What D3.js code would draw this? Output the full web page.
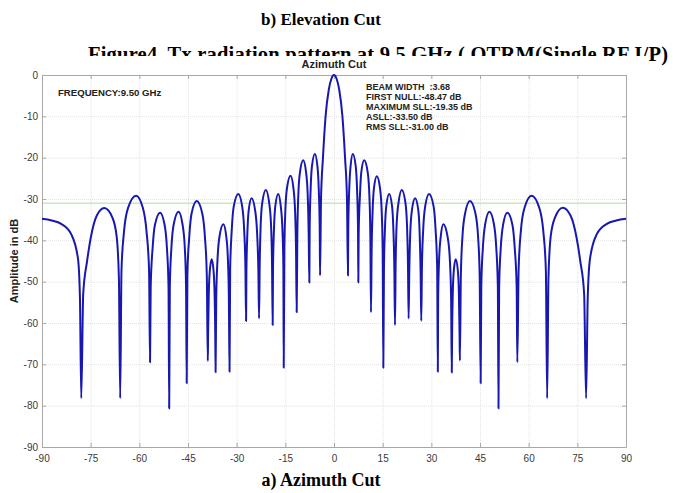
<!DOCTYPE html>
<html>
<head>
<meta charset="utf-8">
<script src="https://cdn.jsdelivr.net/npm/d3@7"></script>
<style>
body { margin: 0; background: #fff; }
svg { display: block; font-family: "Liberation Sans", Arial, sans-serif; }
.serif { font-family: "Liberation Serif", "Times New Roman", serif; font-weight: bold; }
</style>
</head>
<body>
<div id="chart"></div>
<script>
// pattern, one row per lobe (first value of a row = null before the lobe)
var azimuth = [
  -90, -87, -84.1, -81, -78.9, -78.3,
  -77.9, -77.3, -76.1, -75.0, -73.1, -70.8, -68.3, -67.0, -66.3,
  -65.9, -65.5, -64.7, -63.5, -61.0, -58.9, -57.8, -57.0,
  -56.7, -56.5, -55.9, -55.2, -53.6, -52.2, -51.5, -51.0,
  -50.8, -50.6, -50.1, -49.4, -47.9, -46.7, -46.0, -45.6,
  -45.4, -45.2, -44.6, -43.9, -42.3, -40.6, -39.8, -39.2,
  -38.9, -38.8, -38.6, -38.3, -37.7, -37.1, -36.8, -36.6,
  -36.5, -36.3, -35.9, -35.3, -34.1, -33.2, -32.7, -32.4,
  -32.2, -32.0, -31.5, -30.9, -29.5, -28.3, -27.7, -27.3,
  -27.1, -27.0, -26.7, -26.3, -25.4, -24.3, -23.7, -23.3,
  -23.1, -22.9, -22.6, -22.1, -21.0, -20.0, -19.4, -19.1,
  -18.9, -18.8, -18.5, -18.1, -17.2, -16.4, -15.9, -15.6,
  -15.5, -15.3, -15.0, -14.5, -13.4, -12.5, -12.0, -11.7,
  -11.5, -11.3, -11.0, -10.5, -9.5, -8.6, -8.1, -7.8,
  -7.6, -7.5, -7.2, -6.8, -5.9, -5.1, -4.7, -4.4,
  -4.3, -4.0, -3.4, -2.6, -1.6, -0.8, 0, 0.8, 1.6, 2.6, 3.4, 4.0,
  4.3, 4.4, 4.7, 5.1, 5.8, 6.7, 7.1, 7.4,
  7.5, 7.6, 8.0, 8.4, 9.3, 10.4, 10.9, 11.2,
  11.4, 11.6, 11.9, 12.3, 13.2, 14.2, 14.7, 15.0,
  15.2, 15.4, 15.7, 16.1, 17.0, 17.9, 18.3, 18.6,
  18.8, 19.0, 19.3, 19.9, 20.9, 22.0, 22.5, 22.8,
  23.0, 23.2, 23.5, 24.0, 25.0, 26.0, 26.4, 26.7,
  26.9, 27.1, 27.5, 28.1, 29.3, 30.7, 31.3, 31.8,
  32.0, 32.1, 32.4, 32.9, 33.7, 35.0, 35.7, 36.1,
  36.3, 36.4, 36.6, 36.9, 37.5, 38.2, 38.5, 38.7,
  38.8, 39.1, 39.6, 40.4, 41.9, 43.6, 44.4, 44.9,
  45.2, 45.4, 45.9, 46.6, 47.9, 49.3, 50.0, 50.5,
  50.7, 50.9, 51.4, 52.1, 53.4, 55.0, 55.7, 56.3,
  56.5, 56.9, 57.6, 58.7, 60.9, 63.3, 64.5, 65.3,
  65.7, 66.1, 66.8, 68.1, 70.5, 72.9, 74.8, 75.9, 77.1,
  77.7, 78.2, 78.9, 81.0, 84.1, 87, 90
];
var amplitudeDb = [
  -34.8, -35.2, -36.0, -38.5, -44.5, -54,
  -78.2, -53, -45, -39.5, -34.0, -32.2, -34.5, -39, -49,
  -78.2, -47.2, -37.7, -32.2, -29.2, -32.2, -37.7, -47.2,
  -69.5, -51.3, -41.8, -36.3, -33.3, -36.3, -41.8, -51.3,
  -80.7, -51.1, -41.6, -36.1, -33.1, -36.1, -41.6, -51.1,
  -74.6, -48.5, -39.0, -33.5, -30.5, -33.5, -39.0, -48.5,
  -69.2, -62.6, -53.1, -47.6, -44.6, -47.6, -53.1, -62.6,
  -71.9, -54.1, -44.6, -39.1, -36.1, -39.1, -44.6, -54.1,
  -71.8, -46.8, -37.3, -31.8, -28.8, -31.8, -37.3, -46.8,
  -59.5, -47.8, -38.3, -32.8, -29.8, -32.8, -38.3, -47.8,
  -58.9, -45.8, -36.3, -30.8, -27.8, -30.8, -36.3, -45.8,
  -60.5, -46.8, -37.3, -31.8, -28.8, -31.8, -37.3, -46.8,
  -70.8, -42.4, -32.9, -27.4, -24.4, -27.4, -32.9, -42.4,
  -57.4, -38.6, -29.1, -23.6, -20.6, -23.6, -29.1, -38.6,
  -50.2, -37.1, -27.6, -22.1, -19.1, -22.1, -27.6, -37.1,
  -48.5, -30, -20, -10, -3.5, -0.9, 0, -0.9, -3.5, -10, -20, -30,
  -48.5, -37.1, -27.6, -22.1, -19.1, -22.1, -27.6, -37.1,
  -50.2, -38.6, -29.1, -23.6, -20.6, -23.6, -29.1, -38.6,
  -57.4, -42.5, -33.0, -27.5, -24.5, -27.5, -33.0, -42.5,
  -70.8, -46.8, -37.3, -31.8, -28.8, -31.8, -37.3, -46.8,
  -60.5, -45.8, -36.3, -30.8, -27.8, -30.8, -36.3, -45.8,
  -58.9, -47.8, -38.3, -32.8, -29.8, -32.8, -38.3, -47.8,
  -59.5, -46.8, -37.3, -31.8, -28.8, -31.8, -37.3, -46.8,
  -71.8, -54.1, -44.6, -39.1, -36.1, -39.1, -44.6, -54.1,
  -72.0, -62.6, -53.1, -47.6, -44.6, -47.6, -53.1, -62.6,
  -69.1, -48.5, -39.0, -33.5, -30.5, -33.5, -39.0, -48.5,
  -74.6, -51.1, -41.6, -36.1, -33.1, -36.1, -41.6, -51.1,
  -80.7, -51.3, -41.8, -36.3, -33.3, -36.3, -41.8, -51.3,
  -69.5, -47.2, -37.7, -32.2, -29.2, -32.2, -37.7, -47.2,
  -78.2, -49, -39, -34.5, -32.1, -34.0, -39.5, -45, -53,
  -78.2, -54, -44.5, -38.5, -36.0, -35.2, -34.8
];
var xTicks = [-90, -75, -60, -45, -30, -15, 0, 15, 30, 45, 60, 75, 90];
var yTicks = [0, -10, -20, -30, -40, -50, -60, -70, -80, -90];
var rmsLevel = -31;
var freqText = "FREQUENCY:9.50 GHz";
var statsText = ["BEAM WIDTH  :3.68", "FIRST NULL:-48.47 dB", "MAXIMUM SLL:-19.35 dB", "ASLL:-33.50 dB", "RMS SLL:-31.00 dB"];

var W = 679, H = 493;
var margin = {top: 75, right: 53, bottom: 46, left: 42};
var width = W - margin.left - margin.right,
    height = H - margin.top - margin.bottom;

var svg = d3.select("#chart").append("svg")
    .attr("width", W)
    .attr("height", H);

// document text around the figure
svg.append("text").attr("class", "serif")
    .attr("x", 321).attr("y", 25)
    .attr("text-anchor", "middle").style("font-size", "17px")
    .text("b) Elevation Cut");

svg.append("text").attr("class", "serif")
    .attr("x", 88).attr("y", 61)
    .attr("textLength", 580)
    .style("font-size", "20.5px")
    .text("Figure4. Tx radiation pattern at 9.5 GHz ( OTRM(Single RF I/P)");

// the figure image covers the lower part of the caption
svg.append("rect")
    .attr("x", 0).attr("y", 56)
    .attr("width", 646).attr("height", 415)
    .attr("fill", "#fff");

svg.append("text").attr("class", "serif")
    .attr("x", 321).attr("y", 486)
    .attr("text-anchor", "middle").style("font-size", "18px")
    .text("a) Azimuth Cut");

var g = svg.append("g")
    .attr("transform", "translate(" + margin.left + "," + margin.top + ")");

var x = d3.scaleLinear().domain([-90, 90]).range([0, width]);
var y = d3.scaleLinear().domain([-90, 0]).range([height, 0]);
var plain = function(d) { return String(d); };

// grid
g.append("g")
    .attr("class", "grid")
    .attr("transform", "translate(0," + height + ")")
    .call(d3.axisBottom(x).tickValues(xTicks).tickSize(-height).tickFormat(""));
g.append("g")
    .attr("class", "grid")
    .call(d3.axisLeft(y).tickValues(yTicks).tickSize(-width).tickFormat(""));
g.selectAll(".grid .domain").remove();
g.selectAll(".grid line")
    .attr("stroke", "#e2e2e2")
    .attr("stroke-dasharray", "1,1");

// rms side lobe level
g.append("line")
    .attr("x1", 0).attr("x2", width)
    .attr("y1", y(rmsLevel)).attr("y2", y(rmsLevel))
    .attr("stroke", "#a6dca6")
    .attr("stroke-width", 1);

// axes, ticks inside like matlab
g.append("g")
    .attr("class", "axis axis-x")
    .attr("transform", "translate(0," + height + ")")
    .call(d3.axisBottom(x).tickValues(xTicks).tickFormat(plain).tickSizeInner(-4).tickSizeOuter(0).tickPadding(8));
g.append("g")
    .attr("class", "axis axis-y")
    .call(d3.axisLeft(y).tickValues(yTicks).tickFormat(plain).tickSizeInner(-4).tickSizeOuter(0).tickPadding(4));
g.append("g")
    .attr("class", "axis")
    .call(d3.axisTop(x).tickValues(xTicks).tickSizeInner(-4).tickSizeOuter(0).tickFormat(""));
g.append("g")
    .attr("class", "axis")
    .attr("transform", "translate(" + width + ",0)")
    .call(d3.axisRight(y).tickValues(yTicks).tickSizeInner(-4).tickSizeOuter(0).tickFormat(""));

g.selectAll(".axis .domain").attr("stroke", "#a8a8a8");
g.selectAll(".axis line").attr("stroke", "#a8a8a8");
g.selectAll(".axis text")
    .attr("fill", "#3a3a3a")
    .style("font-size", "10px")
    .style("font-family", "'Liberation Sans', Arial, sans-serif");

// pattern
var pts = azimuth.map(function(a, i) { return [a, amplitudeDb[i]]; });
var line = d3.line()
    .x(function(d) { return x(d[0]); })
    .y(function(d) { return y(d[1]); })
    .curve(d3.curveMonotoneX);

g.append("path")
    .datum(pts)
    .attr("fill", "none")
    .attr("stroke", "#1818b0")
    .attr("stroke-width", 2)
    .attr("stroke-linejoin", "round")
    .attr("d", line);

// labels
g.append("text")
    .attr("x", width / 2).attr("y", -7)
    .attr("text-anchor", "middle")
    .style("font-weight", "bold").style("font-size", "11px")
    .attr("fill", "#222")
    .text("Azimuth Cut");

g.append("text")
    .attr("transform", "rotate(-90)")
    .attr("x", -186).attr("y", -24)
    .attr("text-anchor", "middle")
    .style("font-weight", "bold").style("font-size", "11px")
    .attr("fill", "#222")
    .text("Amplitude in dB");

g.append("text")
    .attr("x", 16).attr("y", 21)
    .style("font-weight", "bold").style("font-size", "9.6px")
    .attr("fill", "#222")
    .text(freqText);

g.selectAll(".stat")
    .data(statsText)
    .enter()
    .append("text")
    .attr("class", "stat")
    .attr("x", 324)
    .attr("y", function(d, i) { return 14.5 + i * 10; })
    .style("font-weight", "bold").style("font-size", "9px")
    .style("white-space", "pre")
    .attr("fill", "#222")
    .text(function(d) { return d; });
</script>
</body>
</html>
